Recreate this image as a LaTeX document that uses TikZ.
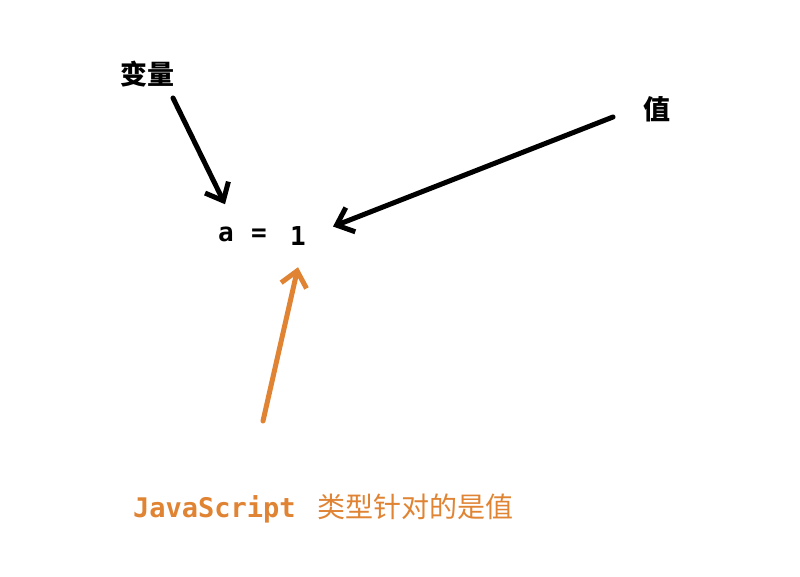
\documentclass[tikz,border=0pt]{standalone}
\usepackage{fontspec}
\usetikzlibrary{arrows.meta}
\newfontfamily\cjk{Noto Sans CJK SC}
\newfontfamily\mymono{DejaVu Sans Mono}
\definecolor{jsorange}{RGB}{224,132,52}
\tikzset{
  lbl/.style={font=\cjk\bfseries\fontsize{27pt}{27pt}\selectfont, inner sep=0pt, text=black},
  codechar/.style={font=\mymono\bfseries\fontsize{26pt}{26pt}\selectfont, inner sep=0pt},
  arr/.style={line width=5pt, line cap=round, -{Straight Barb[length=15pt,width=26pt,line width=5pt]}},
  orangearr/.style={arr, draw=jsorange},
}
\begin{document}
\begin{tikzpicture}[x=1pt,y=-1pt]
\useasboundingbox[fill=white] (0,0) rectangle (800,576);
\node[lbl] (var) at (147,74) {变量};
\node[lbl] (val) at (657,109) {值};
\node[codechar, anchor=base] (a) at (226,241) {a};
\node[codechar] (eq) at (259,235) {=};
\node[codechar, anchor=base] (one) at (298,245) {1};
\node[inner sep=0pt, anchor=base west, text=jsorange] (js) at (133,517)
  {{\mymono\bfseries\fontsize{27pt}{27pt}\selectfont JavaScript}\hspace{22pt}{\cjk\fontsize{28pt}{28pt}\selectfont 类型针对的是值}};
\coordinate (t1) at (173,98);
\coordinate (t2) at (613,117);
\coordinate (t3) at (263,421);
\draw[arr] (t1) -- ([xshift=-1pt,yshift=22pt]a.north);
\draw[arr] (t2) -- ([xshift=27pt,yshift=9pt]one.east);
\draw[orangearr] (t3) -- ([yshift=-22pt]one.south);
\end{tikzpicture}
\end{document}
